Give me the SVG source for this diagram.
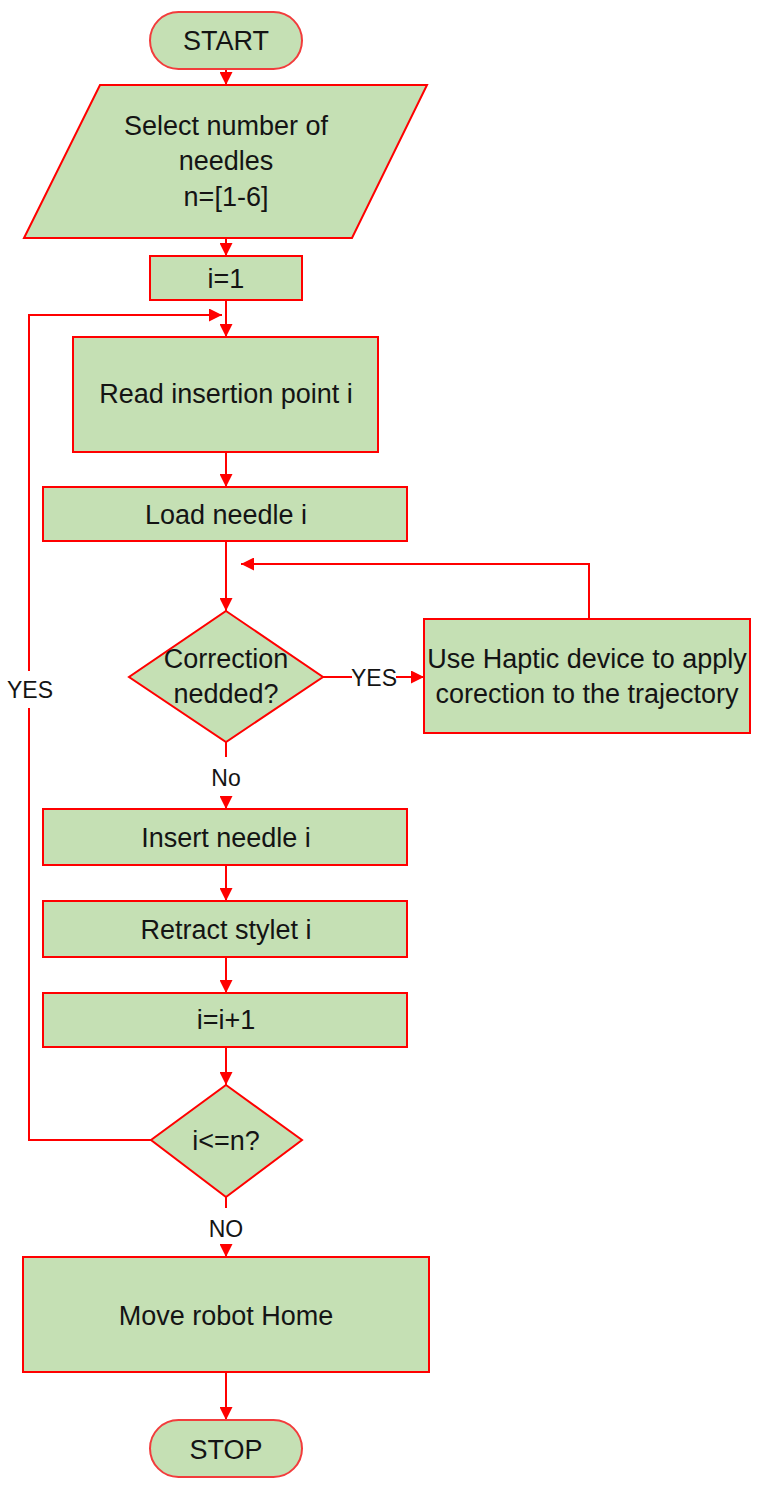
<svg xmlns="http://www.w3.org/2000/svg" width="761" height="1498" viewBox="0 0 761 1498">
<defs>
<marker id="arr" viewBox="0 0 13 13" refX="13" refY="6.5" markerWidth="13" markerHeight="13" markerUnits="userSpaceOnUse" orient="auto">
<path d="M0,0 L13,6.5 L0,13 z" fill="#FF0000"/>
</marker>
</defs>
<style>
.shape{fill:#C5E0B4;stroke:#FF0000;stroke-width:2}
.term{fill:#C5E0B4;stroke:#F23C3C;stroke-width:2}
.t{font-family:"Liberation Sans",Arial,sans-serif;font-size:27px;fill:#141414;text-anchor:middle}
.lbl{font-family:"Liberation Sans",Arial,sans-serif;font-size:23px;fill:#141414;text-anchor:middle}
.c{fill:none;stroke:#FF0000;stroke-width:2}
</style>
<rect width="761" height="1498" fill="#FFFFFF"/>
<g id="connectors">
<path class="c" d="M226,69 V85" marker-end="url(#arr)"/>
<path class="c" d="M226,238 V256" marker-end="url(#arr)"/>
<path class="c" d="M226,300 V337" marker-end="url(#arr)"/>
<path class="c" d="M151,1140 H29 V708"/>
<path class="c" d="M29,671 V315 H222" marker-end="url(#arr)"/>
<path class="c" d="M226,452 V487" marker-end="url(#arr)"/>
<path class="c" d="M226,541 V611" marker-end="url(#arr)"/>
<path class="c" d="M323,677 H352"/>
<path class="c" d="M396,677 H424" marker-end="url(#arr)"/>
<path class="c" d="M589,619 V564 H241" marker-end="url(#arr)"/>
<path class="c" d="M226,742 V757"/>
<path class="c" d="M226,796 V809" marker-end="url(#arr)"/>
<path class="c" d="M226,865 V901" marker-end="url(#arr)"/>
<path class="c" d="M226,957 V993" marker-end="url(#arr)"/>
<path class="c" d="M226,1047 V1085" marker-end="url(#arr)"/>
<path class="c" d="M226,1197 V1208"/>
<path class="c" d="M226,1245 V1257" marker-end="url(#arr)"/>
<path class="c" d="M226,1372 V1420" marker-end="url(#arr)"/>
<text class="lbl" x="30" y="698">YES</text>
<text class="lbl" x="374" y="686">YES</text>
<text class="lbl" x="226" y="786">No</text>
<text class="lbl" x="226" y="1237">NO</text>
</g>
<g id="start">
<rect class="term" x="150" y="12" width="152" height="57" rx="28.5"/>
<text class="t" x="226" y="50">START</text>
</g>
<g id="select">
<polygon class="shape" points="100,85 427,85 352,238 24,238"/>
<text class="t" x="226" y="135">Select number of</text>
<text class="t" x="226" y="170">needles</text>
<text class="t" x="226" y="206">n=[1-6]</text>
</g>
<g id="init">
<rect class="shape" x="150" y="256" width="152" height="44"/>
<text class="t" x="226" y="288">i=1</text>
</g>
<g id="read">
<rect class="shape" x="73" y="337" width="305" height="115"/>
<text class="t" x="226" y="403">Read insertion point i</text>
</g>
<g id="load">
<rect class="shape" x="43" y="487" width="364" height="54"/>
<text class="t" x="226" y="524">Load needle i</text>
</g>
<g id="correction">
<polygon class="shape" points="226,611 323,677 226,742 129,677"/>
<text class="t" x="226" y="668">Correction</text>
<text class="t" x="226" y="703">nedded?</text>
</g>
<g id="haptic">
<rect class="shape" x="424" y="619" width="326" height="114"/>
<text class="t" x="587" y="668">Use Haptic device to apply</text>
<text class="t" x="587" y="703">corection to the trajectory</text>
</g>
<g id="insert">
<rect class="shape" x="43" y="809" width="364" height="56"/>
<text class="t" x="226" y="847">Insert needle i</text>
</g>
<g id="retract">
<rect class="shape" x="43" y="901" width="364" height="56"/>
<text class="t" x="226" y="939">Retract stylet i</text>
</g>
<g id="increment">
<rect class="shape" x="43" y="993" width="364" height="54"/>
<text class="t" x="226" y="1029">i=i+1</text>
</g>
<g id="check">
<polygon class="shape" points="226,1085 302,1140 226,1197 151,1140"/>
<text class="t" x="226" y="1150">i&lt;=n?</text>
</g>
<g id="home">
<rect class="shape" x="23" y="1257" width="406" height="115"/>
<text class="t" x="226" y="1325">Move robot Home</text>
</g>
<g id="stop">
<rect class="term" x="150" y="1420" width="152" height="57" rx="28.5"/>
<text class="t" x="226" y="1459">STOP</text>
</g>
</svg>
